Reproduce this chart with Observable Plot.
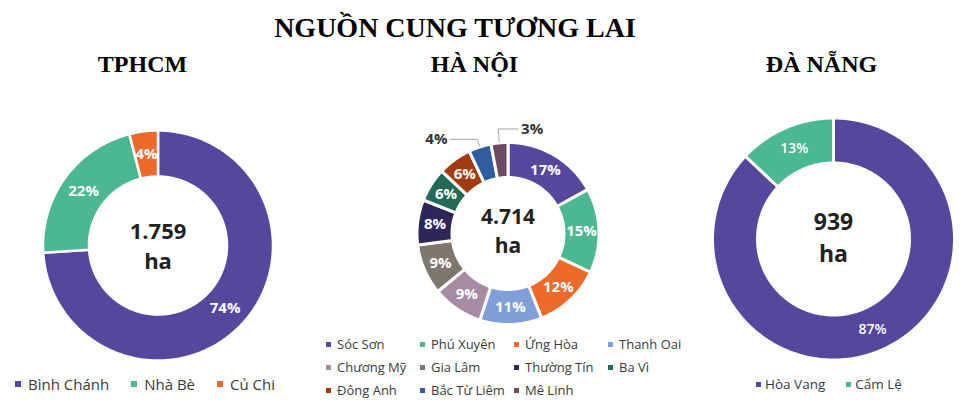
<!DOCTYPE html>
<html>
<head>
<meta charset="utf-8">
<script src="https://cdn.jsdelivr.net/npm/d3@7"></script>
<script src="https://cdn.jsdelivr.net/npm/@observablehq/plot@0.6"></script>
<style>
  html, body { margin: 0; padding: 0; background: #fff; }
  #page { position: relative; width: 967px; height: 410px; overflow: hidden; background: #fff; }
  #page svg.chart { position: absolute; left: 0; top: 0; }
  .head { position: absolute; font-family: "Liberation Serif", "Times New Roman", serif; font-weight: bold; color: #000; text-align: center; line-height: 1; white-space: nowrap; }
  .lgpos { position: absolute; }
  .hcmlg-swatches, .hnlg-swatches, .dnlg-swatches { margin: 0 !important; min-height: 0 !important; color: #3a3a3a; }
  .hcmlg-swatches { height: 20px; }
  .hcmlg-swatch { margin-right: 22px !important; }
  .hcmlg-swatch > svg { margin-right: 7px !important; }
  .dnlg-swatches { height: 20px; }
  .dnlg-swatch { margin-right: 21px !important; }
  .dnlg-swatch > svg { margin-right: 4px !important; }
  .hnlg-swatches { width: 390px; }
  .hnlg-swatch { width: 94px; height: 23px; margin-right: 0 !important; white-space: nowrap; }
  .hnlg-swatch > svg { margin-right: 6px !important; }
</style>
</head>
<body>
<div id="page"></div>
<script>
// ---------------- data ----------------
const title = "NGUỒN CUNG TƯƠNG LAI";
const cityNames = ["TPHCM", "HÀ NỘI", "ĐÀ NẴNG"];
const unit = "ha";

const hcmDistricts = ["Bình Chánh", "Nhà Bè", "Củ Chi"];
const hcmShares = [74, 22, 4];
const hcmTotal = "1.759";

const hnDistricts = ["Sóc Sơn", "Phú Xuyên", "Ứng Hòa", "Thanh Oai", "Chương Mỹ", "Gia Lâm",
                     "Thường Tín", "Ba Vì", "Đông Anh", "Bắc Từ Liêm", "Mê Linh"];
const hnShares = [17, 15, 12, 11, 9, 9, 8, 6, 6, 4, 3];
const hnTotal = "4.714";

const dnDistricts = ["Hòa Vang", "Cẩm Lệ"];
const dnShares = [87, 13];
const dnTotal = "939";

// ---------------- colours ----------------
const hcmColors = ["#55479e", "#4bb892", "#ef6a2a"];
const hnColors = ["#55479e", "#4bb892", "#ef6a2a", "#7f9fd9", "#a78aa3", "#7f766d",
                  "#2f2559", "#236a58", "#a33b10", "#2f5da0", "#6b4a62"];
const dnColors = ["#55479e", "#4bb892"];

// ---------------- layout ----------------
const W = 967, H = 410;
const FONT = "'Open Sans', 'DejaVu Sans', sans-serif";
const series = [
  {names: hcmDistricts, shares: hcmShares, colors: hcmColors, total: hcmTotal},
  {names: hnDistricts, shares: hnShares, colors: hnColors, total: hnTotal},
  {names: dnDistricts, shares: dnShares, colors: dnColors, total: dnTotal}
];
const layout = [
  {cx: 157.5, cy: 245, r0: 69, r1: 115, gap: 2.5, labelSize: 15, labelWeight: 700, centerSize: 22, totalY: 231.5, unitY: 261.5, outsideBelow: 0, headX: 142.5},
  {cx: 507.5, cy: 233, r0: 56, r1: 91, gap: 3, labelSize: 15, labelWeight: 700, centerSize: 21, totalY: 217, unitY: 246, outsideBelow: 5, headX: 474.5},
  {cx: 833, cy: 238.5, r0: 76, r1: 121, gap: 3, labelSize: 14, labelWeight: 600, centerSize: 23, totalY: 222.5, unitY: 254.5, outsideBelow: 0, headX: 821.5}
];

const polar = (cx, cy, r, a) => [cx + r * Math.sin(a), cy - r * Math.cos(a)];

const marks = [];
series.forEach((s, k) => {
  const L = layout[k];
  const arcs = d3.pie().sort(null).value(d => d)(s.shares);
  const rings = [];
  const inside = [];
  const outside = [];
  const leaders = [];
  let outIdx = 0;
  arcs.forEach((a, i) => {
    const key = k + "-" + i;
    const n = Math.max(2, Math.ceil((a.endAngle - a.startAngle) / (Math.PI / 240)));
    for (let j = 0; j <= n; j++) {
      const t = a.startAngle + (a.endAngle - a.startAngle) * j / n;
      const [x, y] = polar(L.cx, L.cy, L.r1, t);
      rings.push({key, x, y, color: s.colors[i]});
    }
    for (let j = n; j >= 0; j--) {
      const t = a.startAngle + (a.endAngle - a.startAngle) * j / n;
      const [x, y] = polar(L.cx, L.cy, L.r0, t);
      rings.push({key, x, y, color: s.colors[i]});
    }
    const mid = (a.startAngle + a.endAngle) / 2;
    const text = s.shares[i] + "%";
    if (s.shares[i] < L.outsideBelow) {
      const side = outIdx === 0 ? -1 : 1;
      const p0 = polar(L.cx, L.cy, L.r1 + 1, mid);
      const p1 = polar(L.cx, L.cy, L.r1 + 8 + 6 * outIdx, mid);
      const len = side < 0 ? 27 : 20;
      const p2 = [p1[0] + side * len, p1[1]];
      leaders.push({key, x: p0[0], y: p0[1]}, {key, x: p1[0], y: p1[1]}, {key, x: p2[0], y: p2[1]});
      outside.push({x: p2[0] + side * 3, y: p1[1], text, anchor: side < 0 ? "end" : "start"});
      outIdx++;
    } else {
      const [x, y] = polar(L.cx, L.cy, (L.r0 + L.r1) / 2, mid);
      inside.push({x, y, text});
    }
  });
  marks.push(Plot.line(rings, {x: "x", y: "y", z: "key", fill: "color", stroke: "#ffffff",
                               strokeWidth: L.gap, curve: "linear-closed", strokeLinejoin: "miter"}));
  marks.push(Plot.text(inside, {x: "x", y: "y", text: "text", fill: "#ffffff",
                                fontSize: L.labelSize, fontWeight: L.labelWeight, fontFamily: FONT}));
  if (leaders.length) {
    marks.push(Plot.line(leaders, {x: "x", y: "y", z: "key", stroke: "#a6a6a6", strokeWidth: 1}));
    marks.push(Plot.text(outside.filter(d => d.anchor === "end"), {x: "x", y: "y", text: "text", fill: "#333333",
                 textAnchor: "end", fontSize: L.labelSize, fontWeight: 700, fontFamily: FONT}));
    marks.push(Plot.text(outside.filter(d => d.anchor === "start"), {x: "x", y: "y", text: "text", fill: "#333333",
                 textAnchor: "start", fontSize: L.labelSize, fontWeight: 700, fontFamily: FONT}));
  }
  marks.push(Plot.text([s.total], {x: () => L.cx, y: () => L.totalY, text: d => d,
               fill: "#222222", fontSize: L.centerSize, fontWeight: 700, fontFamily: FONT}));
  marks.push(Plot.text([unit], {x: () => L.cx, y: () => L.unitY, text: d => d,
               fill: "#222222", fontSize: L.centerSize, fontWeight: 700, fontFamily: FONT}));
});

const chart = Plot.plot({
  width: W, height: H,
  margin: 0,
  x: {type: "linear", domain: [0, W], range: [0, W], axis: null},
  y: {type: "linear", domain: [0, H], range: [0, H], axis: null},
  color: {type: "identity"},
  style: {fontFamily: FONT, background: "transparent", overflow: "visible"},
  marks
});
chart.classList.add("chart");

const page = document.getElementById("page");
page.appendChild(chart);

// titles
function head(text, cx, baseline, size) {
  const d = document.createElement("div");
  d.className = "head";
  d.textContent = text;
  d.style.fontSize = size + "px";
  d.style.width = "400px";
  d.style.left = (cx - 200) + "px";
  d.style.top = (baseline - 0.8375 * size) + "px";
  page.appendChild(d);
}
head(title, 455, 37, 28);
cityNames.forEach((c, k) => head(c, layout[k].headX, 72, 24));

// legends
function legend(names, colors, cls, size, fontSize, left, top) {
  const el = Plot.legend({
    color: {type: "ordinal", domain: names, range: colors},
    legend: "swatches",
    className: cls,
    swatchSize: size,
    style: {fontFamily: FONT, fontSize: fontSize + "px", color: "#3a3a3a"}
  });
  const pos = document.createElement("div");
  pos.className = "lgpos";
  pos.style.left = left + "px";
  pos.style.top = top + "px";
  pos.appendChild(el);
  page.appendChild(pos);
}
legend(hcmDistricts, hcmColors, "hcmlg", 6, 15, 15, 374);
legend(hnDistricts, hnColors, "hnlg", 5, 13, 326, 332.5);
legend(dnDistricts, dnColors, "dnlg", 5, 13.5, 756, 374);
</script>
</body>
</html>
